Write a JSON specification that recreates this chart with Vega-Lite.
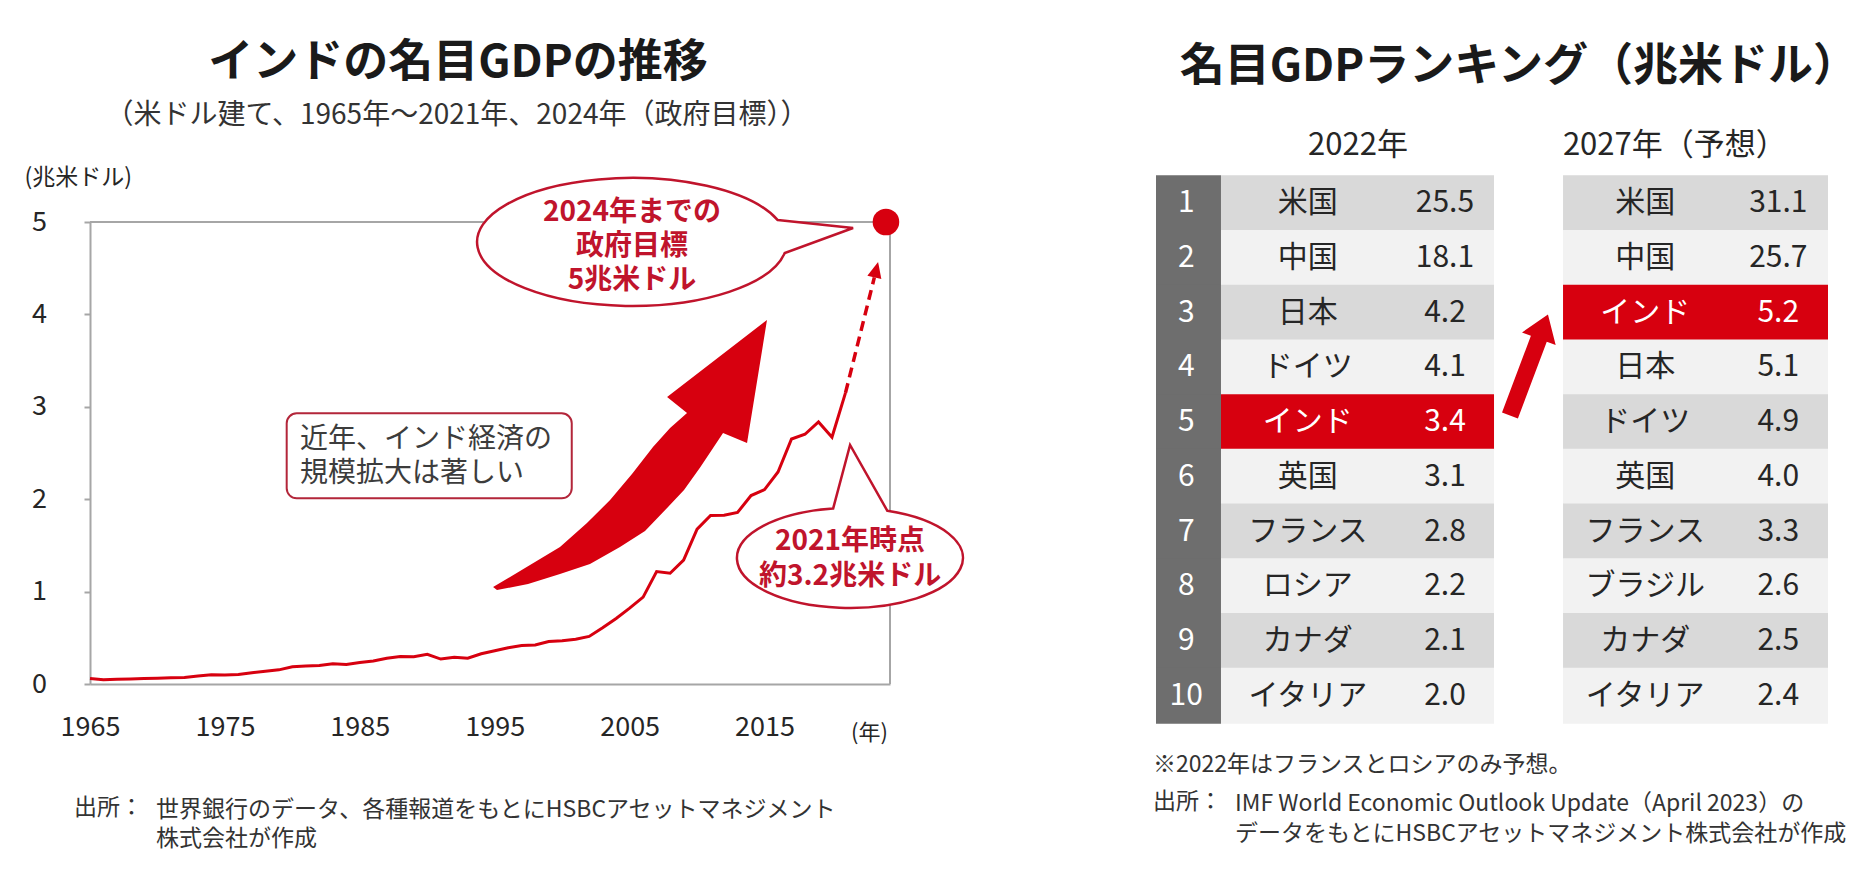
{
  "$schema": "https://vega.github.io/schema/vega-lite/v6.json",
  "width": 1874,
  "height": 896,
  "autosize": "none",
  "padding": 0,
  "background": "white",
  "config": {"view": {"stroke": null}, "font": "Noto Sans CJK JP"},
  "datasets": {
    "gdp": [
      {"year":1965,"gdp":0.0596},{"year":1966,"gdp":0.0459},{"year":1967,"gdp":0.0501},{"year":1968,"gdp":0.0531},{"year":1969,"gdp":0.0584},
      {"year":1970,"gdp":0.0624},{"year":1971,"gdp":0.0674},{"year":1972,"gdp":0.0715},{"year":1973,"gdp":0.0855},{"year":1974,"gdp":0.0995},
      {"year":1975,"gdp":0.0985},{"year":1976,"gdp":0.1027},{"year":1977,"gdp":0.1215},{"year":1978,"gdp":0.1373},{"year":1979,"gdp":0.1530},
      {"year":1980,"gdp":0.1863},{"year":1981,"gdp":0.1935},{"year":1982,"gdp":0.2007},{"year":1983,"gdp":0.2183},{"year":1984,"gdp":0.2122},
      {"year":1985,"gdp":0.2325},{"year":1986,"gdp":0.2490},{"year":1987,"gdp":0.2790},{"year":1988,"gdp":0.2966},{"year":1989,"gdp":0.2960},
      {"year":1990,"gdp":0.3210},{"year":1991,"gdp":0.2701},{"year":1992,"gdp":0.2882},{"year":1993,"gdp":0.2793},{"year":1994,"gdp":0.3273},
      {"year":1995,"gdp":0.3603},{"year":1996,"gdp":0.3929},{"year":1997,"gdp":0.4159},{"year":1998,"gdp":0.4214},{"year":1999,"gdp":0.4588},
      {"year":2000,"gdp":0.4684},{"year":2001,"gdp":0.4854},{"year":2002,"gdp":0.5149},{"year":2003,"gdp":0.6077},{"year":2004,"gdp":0.7091},
      {"year":2005,"gdp":0.8204},{"year":2006,"gdp":0.9403},{"year":2007,"gdp":1.2167},{"year":2008,"gdp":1.1989},{"year":2009,"gdp":1.3419},
      {"year":2010,"gdp":1.6756},{"year":2011,"gdp":1.8231},{"year":2012,"gdp":1.8276},{"year":2013,"gdp":1.8567},{"year":2014,"gdp":2.0391},
      {"year":2015,"gdp":2.1036},{"year":2016,"gdp":2.2948},{"year":2017,"gdp":2.6515},{"year":2018,"gdp":2.7029},{"year":2019,"gdp":2.8356},
      {"year":2020,"gdp":2.6716},{"year":2021,"gdp":3.1503}
    ],
    "target": [{"year": 2024, "gdp": 5}],
    "table": [
      {"rank":1,"c1":"米国","v1":25.5,"c2":"米国","v2":31.1},
      {"rank":2,"c1":"中国","v1":18.1,"c2":"中国","v2":25.7},
      {"rank":3,"c1":"日本","v1":4.2,"c2":"インド","v2":5.2},
      {"rank":4,"c1":"ドイツ","v1":4.1,"c2":"日本","v2":5.1},
      {"rank":5,"c1":"インド","v1":3.4,"c2":"ドイツ","v2":4.9},
      {"rank":6,"c1":"英国","v1":3.1,"c2":"英国","v2":4.0},
      {"rank":7,"c1":"フランス","v1":2.8,"c2":"フランス","v2":3.3},
      {"rank":8,"c1":"ロシア","v1":2.2,"c2":"ブラジル","v2":2.6},
      {"rank":9,"c1":"カナダ","v1":2.1,"c2":"カナダ","v2":2.5},
      {"rank":10,"c1":"イタリア","v1":2.0,"c2":"イタリア","v2":2.4}
    ]
  },
  "resolve": {"scale": {"x": "independent", "y": "independent"}},
  "layer": [
    {
      "layer": [
        {
          "data": {"values": [{}]},
          "mark": {"type": "rule", "color": "#a6a6a6", "strokeWidth": 2},
          "encoding": {
            "x": {"datum": 1965, "type": "quantitative", "scale": {"domain": [1965, 2024.3], "range": [90, 890], "nice": false, "zero": false}},
            "x2": {"datum": 2024.3},
            "y": {"datum": 5, "type": "quantitative", "scale": {"domain": [0, 5], "range": [684, 222], "nice": false, "zero": false}}
          }
        },
        {
          "data": {"values": [{}]},
          "mark": {"type": "rule", "color": "#a6a6a6", "strokeWidth": 2},
          "encoding": {
            "x": {"datum": 2024.3, "type": "quantitative", "scale": {"domain": [1965, 2024.3], "range": [90, 890], "nice": false, "zero": false}},
            "y": {"datum": 0, "type": "quantitative", "scale": {"domain": [0, 5], "range": [684, 222], "nice": false, "zero": false}},
            "y2": {"datum": 5}
          }
        },
        {
          "data": {"name": "gdp"},
          "mark": {"type": "line", "color": "#d7000f", "strokeWidth": 3},
          "encoding": {
            "x": {"field": "year", "type": "quantitative",
              "scale": {"domain": [1965, 2024.3], "range": [90, 890], "nice": false, "zero": false},
              "axis": {"orient": "bottom", "offset": -212, "values": [1965, 1975, 1985, 1995, 2005, 2015], "format": "d",
                "grid": false, "ticks": false, "tickSize": 0, "domainColor": "#a6a6a6", "domainWidth": 2,
                "labelFontSize": 27, "labelColor": "#262626", "labelPadding": 30, "labelFlush": false,
                "title": "(年)", "titleFontSize": 22, "titleFontWeight": "normal", "titleColor": "#262626",
                "titleX": 869, "titleY": 48, "titleAlign": "center", "titleBaseline": "middle"}},
            "y": {"field": "gdp", "type": "quantitative",
              "scale": {"domain": [0, 5], "range": [684, 222], "nice": false, "zero": false},
              "axis": {"orient": "left", "offset": -90, "values": [0, 1, 2, 3, 4, 5], "format": "d",
                "grid": false, "ticks": true, "tickSize": 6, "tickColor": "#a6a6a6", "tickWidth": 2,
                "domainColor": "#a6a6a6", "domainWidth": 2,
                "labelFontSize": 27, "labelColor": "#262626", "labelAlign": "center", "labelPadding": 45,
                "title": "(兆米ドル)", "titleFontSize": 23, "titleFontWeight": "normal", "titleColor": "#262626",
                "titleAngle": 0, "titleX": -66, "titleY": 177, "titleAlign": "left", "titleBaseline": "middle"}}
          }
        },
        {
          "data": {"values": [{}]},
          "mark": {"type": "rule", "color": "#d7000f", "strokeWidth": 3.5, "strokeDash": [10, 6]},
          "encoding": {
            "x": {"datum": 2021, "type": "quantitative", "scale": {"domain": [1965, 2024.3], "range": [90, 890], "nice": false, "zero": false}},
            "x2": {"datum": 2023.14},
            "y": {"datum": 3.1503, "type": "quantitative", "scale": {"domain": [0, 5], "range": [684, 222], "nice": false, "zero": false}},
            "y2": {"datum": 4.4}
          }
        },
        {
          "data": {"values": [{}]},
          "mark": {"type": "point", "shape": "M0,-1L0.45,0L-0.45,0Z", "size": 1024, "angle": 13.5, "filled": true, "color": "#d7000f", "opacity": 1},
          "encoding": {
            "x": {"datum": 2023.14, "type": "quantitative", "scale": {"domain": [1965, 2024.3], "range": [90, 890], "nice": false, "zero": false}},
            "y": {"datum": 4.4, "type": "quantitative", "scale": {"domain": [0, 5], "range": [684, 222], "nice": false, "zero": false}}
          }
        },
        {
          "data": {"values": [{}]},
          "mark": {"type": "point", "shape": "M-0.913,0.88L-0.7,0.753L-0.467,0.613L-0.287,0.453L-0.133,0.3L0.013,0.127L0.153,-0.053L0.267,-0.18L0.38,-0.28L0.247,-0.387L0.913,-0.9L0.78,-0.08L0.62,-0.147L0.547,-0.037L0.467,0.083L0.36,0.233L0.247,0.353L0.1,0.507L-0.067,0.613L-0.267,0.727L-0.467,0.793L-0.68,0.86L-0.887,0.9Z", "size": 90000, "filled": true, "color": "#d7000f", "opacity": 1},
          "encoding": {
            "x": {"datum": 2005.03, "type": "quantitative", "scale": {"domain": [1965, 2024.3], "range": [90, 890], "nice": false, "zero": false}},
            "y": {"datum": 2.478, "type": "quantitative", "scale": {"domain": [0, 5], "range": [684, 222], "nice": false, "zero": false}}
          }
        },
        {
          "data": {"values": [{}]},
          "mark": {"type": "rect", "fill": "white", "stroke": "#b3263a", "strokeWidth": 2, "cornerRadius": 10},
          "encoding": {
            "x": {"datum": 1979.58, "type": "quantitative", "scale": {"domain": [1965, 2024.3], "range": [90, 890], "nice": false, "zero": false}},
            "x2": {"datum": 2000.71},
            "y": {"datum": 2.93, "type": "quantitative", "scale": {"domain": [0, 5], "range": [684, 222], "nice": false, "zero": false}},
            "y2": {"datum": 2.01}
          }
        },
        {
          "data": {"values": [{"t": ["近年、インド経済の", "規模拡大は著しい"]}]},
          "mark": {"type": "text", "align": "left", "baseline": "top", "fontSize": 28, "lineHeight": 34, "color": "#3c3c3c"},
          "encoding": {
            "x": {"datum": 1980.57, "type": "quantitative", "scale": {"domain": [1965, 2024.3], "range": [90, 890], "nice": false, "zero": false}},
            "y": {"datum": 2.787, "type": "quantitative", "scale": {"domain": [0, 5], "range": [684, 222], "nice": false, "zero": false}},
            "text": {"field": "t"}
          }
        },
        {
          "data": {"values": [{}]},
          "mark": {"type": "point", "shape": "M0.94,-0.141L1.426,-0.09L0.985,0.071A1,0.413,0,1,1,0.94,-0.141Z", "size": 96100, "filled": true, "fill": "white", "stroke": "#c0142c", "strokeWidth": 2.5, "opacity": 1},
          "encoding": {
            "x": {"datum": 2005.18, "type": "quantitative", "scale": {"domain": [1965, 2024.3], "range": [90, 890], "nice": false, "zero": false}},
            "y": {"datum": 4.784, "type": "quantitative", "scale": {"domain": [0, 5], "range": [684, 222], "nice": false, "zero": false}}
          }
        },
        {
          "data": {"values": [{"t": ["2024年までの", "政府目標", "5兆米ドル"]}]},
          "mark": {"type": "text", "align": "center", "baseline": "top", "fontSize": 28, "lineHeight": 34, "fontWeight": "bold", "color": "#c0142c"},
          "encoding": {
            "x": {"datum": 2005.18, "type": "quantitative", "scale": {"domain": [1965, 2024.3], "range": [90, 890], "nice": false, "zero": false}},
            "y": {"datum": 5.254, "type": "quantitative", "scale": {"domain": [0, 5], "range": [684, 222], "nice": false, "zero": false}},
            "text": {"field": "t"}
          }
        },
        {
          "data": {"values": [{}]},
          "mark": {"type": "point", "shape": "M-0.15,-0.437L0,-1L0.33,-0.417A1,0.442,0,1,1,-0.15,-0.437Z", "size": 51076, "filled": true, "fill": "white", "stroke": "#c0142c", "strokeWidth": 2.5, "opacity": 1},
          "encoding": {
            "x": {"datum": 2021.34, "type": "quantitative", "scale": {"domain": [1965, 2024.3], "range": [90, 890], "nice": false, "zero": false}},
            "y": {"datum": 1.364, "type": "quantitative", "scale": {"domain": [0, 5], "range": [684, 222], "nice": false, "zero": false}}
          }
        },
        {
          "data": {"values": [{"t": ["2021年時点", "約3.2兆米ドル"]}]},
          "mark": {"type": "text", "align": "center", "baseline": "top", "fontSize": 28, "lineHeight": 35, "fontWeight": "bold", "color": "#c0142c"},
          "encoding": {
            "x": {"datum": 2021.34, "type": "quantitative", "scale": {"domain": [1965, 2024.3], "range": [90, 890], "nice": false, "zero": false}},
            "y": {"datum": 1.683, "type": "quantitative", "scale": {"domain": [0, 5], "range": [684, 222], "nice": false, "zero": false}},
            "text": {"field": "t"}
          }
        },
        {
          "data": {"name": "target"},
          "mark": {"type": "point", "shape": "circle", "size": 707, "filled": true, "color": "#d7000f", "opacity": 1},
          "encoding": {
            "x": {"field": "year", "type": "quantitative", "scale": {"domain": [1965, 2024.3], "range": [90, 890], "nice": false, "zero": false}},
            "y": {"field": "gdp", "type": "quantitative", "scale": {"domain": [0, 5], "range": [684, 222], "nice": false, "zero": false}}
          }
        },
        {
          "data": {"values": [{"t": "インドの名目GDPの推移"}]},
          "mark": {"type": "text", "align": "center", "baseline": "middle", "fontSize": 45, "fontWeight": "bold", "color": "#1a1a1a"},
          "encoding": {
            "x": {"datum": 1992.28, "type": "quantitative", "scale": {"domain": [1965, 2024.3], "range": [90, 890], "nice": false, "zero": false}},
            "y": {"datum": 6.721, "type": "quantitative", "scale": {"domain": [0, 5], "range": [684, 222], "nice": false, "zero": false}},
            "text": {"field": "t"}
          }
        },
        {
          "data": {"values": [{"t": "（米ドル建て、1965年～2021年、2024年（政府目標））"}]},
          "mark": {"type": "text", "align": "center", "baseline": "middle", "fontSize": 28, "color": "#333333"},
          "encoding": {
            "x": {"datum": 1992.2, "type": "quantitative", "scale": {"domain": [1965, 2024.3], "range": [90, 890], "nice": false, "zero": false}},
            "y": {"datum": 6.147, "type": "quantitative", "scale": {"domain": [0, 5], "range": [684, 222], "nice": false, "zero": false}},
            "text": {"field": "t"}
          }
        },
        {
          "data": {"values": [{"t": "出所："}]},
          "mark": {"type": "text", "align": "left", "baseline": "middle", "fontSize": 23, "color": "#333333"},
          "encoding": {
            "x": {"datum": 1963.81, "type": "quantitative", "scale": {"domain": [1965, 2024.3], "range": [90, 890], "nice": false, "zero": false}},
            "y": {"datum": -1.342, "type": "quantitative", "scale": {"domain": [0, 5], "range": [684, 222], "nice": false, "zero": false}},
            "text": {"field": "t"}
          }
        },
        {
          "data": {"values": [{"t": ["世界銀行のデータ、各種報道をもとにHSBCアセットマネジメント", "株式会社が作成"]}]},
          "mark": {"type": "text", "align": "left", "baseline": "top", "fontSize": 23, "lineHeight": 29, "color": "#333333"},
          "encoding": {
            "x": {"datum": 1969.89, "type": "quantitative", "scale": {"domain": [1965, 2024.3], "range": [90, 890], "nice": false, "zero": false}},
            "y": {"datum": -1.241, "type": "quantitative", "scale": {"domain": [0, 5], "range": [684, 222], "nice": false, "zero": false}},
            "text": {"field": "t"}
          }
        }
      ]
    },
    {
      "layer": [
        {
          "data": {"name": "table"},
          "mark": {"type": "bar", "orient": "horizontal", "height": 56, "color": "#6e6e6e"},
          "encoding": {
            "x": {"datum": 0, "type": "quantitative", "scale": {"domain": [0, 100], "range": [1156, 1828], "nice": false, "zero": false}, "axis": null},
            "x2": {"datum": 9.67},
            "y": {"field": "rank", "type": "quantitative", "scale": {"domain": [0.5, 10.5], "range": [171, 728], "nice": false, "zero": false}, "axis": null}
          }
        },
        {
          "data": {"name": "table"},
          "mark": {"type": "bar", "orient": "horizontal", "height": 56},
          "encoding": {
            "x": {"datum": 9.67, "type": "quantitative", "scale": {"domain": [0, 100], "range": [1156, 1828], "nice": false, "zero": false}, "axis": null},
            "x2": {"datum": 50.3},
            "y": {"field": "rank", "type": "quantitative", "scale": {"domain": [0.5, 10.5], "range": [171, 728], "nice": false, "zero": false}, "axis": null},
            "color": {"condition": [{"test": "datum.c1 === 'インド'", "value": "#d7000f"}, {"test": "datum.rank % 2 === 1", "value": "#d9d9d9"}], "value": "#f2f2f2"}
          }
        },
        {
          "data": {"name": "table"},
          "mark": {"type": "bar", "orient": "horizontal", "height": 56},
          "encoding": {
            "x": {"datum": 60.57, "type": "quantitative", "scale": {"domain": [0, 100], "range": [1156, 1828], "nice": false, "zero": false}, "axis": null},
            "x2": {"datum": 100},
            "y": {"field": "rank", "type": "quantitative", "scale": {"domain": [0.5, 10.5], "range": [171, 728], "nice": false, "zero": false}, "axis": null},
            "color": {"condition": [{"test": "datum.c2 === 'インド'", "value": "#d7000f"}, {"test": "datum.rank % 2 === 1", "value": "#d9d9d9"}], "value": "#f2f2f2"}
          }
        },
        {
          "data": {"name": "table"},
          "mark": {"type": "text", "align": "center", "baseline": "middle", "fontSize": 30, "color": "white"},
          "encoding": {
            "x": {"datum": 4.5, "type": "quantitative", "scale": {"domain": [0, 100], "range": [1156, 1828], "nice": false, "zero": false}, "axis": null},
            "y": {"field": "rank", "type": "quantitative", "scale": {"domain": [0.5, 10.5], "range": [171, 728], "nice": false, "zero": false}, "axis": null},
            "text": {"field": "rank", "type": "quantitative"}
          }
        },
        {
          "data": {"name": "table"},
          "mark": {"type": "text", "align": "center", "baseline": "middle", "fontSize": 30},
          "encoding": {
            "x": {"datum": 22.6, "type": "quantitative", "scale": {"domain": [0, 100], "range": [1156, 1828], "nice": false, "zero": false}, "axis": null},
            "y": {"field": "rank", "type": "quantitative", "scale": {"domain": [0.5, 10.5], "range": [171, 728], "nice": false, "zero": false}, "axis": null},
            "text": {"field": "c1"},
            "color": {"condition": {"test": "datum.c1 === 'インド'", "value": "white"}, "value": "#262626"}
          }
        },
        {
          "data": {"name": "table"},
          "mark": {"type": "text", "align": "center", "baseline": "middle", "fontSize": 30},
          "encoding": {
            "x": {"datum": 43, "type": "quantitative", "scale": {"domain": [0, 100], "range": [1156, 1828], "nice": false, "zero": false}, "axis": null},
            "y": {"field": "rank", "type": "quantitative", "scale": {"domain": [0.5, 10.5], "range": [171, 728], "nice": false, "zero": false}, "axis": null},
            "text": {"field": "v1", "type": "quantitative", "format": ".1f"},
            "color": {"condition": {"test": "datum.c1 === 'インド'", "value": "white"}, "value": "#262626"}
          }
        },
        {
          "data": {"name": "table"},
          "mark": {"type": "text", "align": "center", "baseline": "middle", "fontSize": 30},
          "encoding": {
            "x": {"datum": 72.8, "type": "quantitative", "scale": {"domain": [0, 100], "range": [1156, 1828], "nice": false, "zero": false}, "axis": null},
            "y": {"field": "rank", "type": "quantitative", "scale": {"domain": [0.5, 10.5], "range": [171, 728], "nice": false, "zero": false}, "axis": null},
            "text": {"field": "c2"},
            "color": {"condition": {"test": "datum.c2 === 'インド'", "value": "white"}, "value": "#262626"}
          }
        },
        {
          "data": {"name": "table"},
          "mark": {"type": "text", "align": "center", "baseline": "middle", "fontSize": 30},
          "encoding": {
            "x": {"datum": 92.6, "type": "quantitative", "scale": {"domain": [0, 100], "range": [1156, 1828], "nice": false, "zero": false}, "axis": null},
            "y": {"field": "rank", "type": "quantitative", "scale": {"domain": [0.5, 10.5], "range": [171, 728], "nice": false, "zero": false}, "axis": null},
            "text": {"field": "v2", "type": "quantitative", "format": ".1f"},
            "color": {"condition": {"test": "datum.c2 === 'インド'", "value": "white"}, "value": "#262626"}
          }
        },
        {
          "data": {"values": [{}]},
          "mark": {"type": "point", "shape": "M0,-1L0.333,-0.52L0.157,-0.52L0.157,1L-0.157,1L-0.157,-0.52L-0.333,-0.52Z", "size": 11664, "angle": 20.6, "filled": true, "color": "#d7000f", "opacity": 1},
          "encoding": {
            "x": {"datum": 55.5, "type": "quantitative", "scale": {"domain": [0, 100], "range": [1156, 1828], "nice": false, "zero": false}, "axis": null},
            "y": {"datum": 3.956, "type": "quantitative", "scale": {"domain": [0.5, 10.5], "range": [171, 728], "nice": false, "zero": false}, "axis": null}
          }
        },
        {
          "data": {"values": [{"t": "名目GDPランキング（兆米ドル）"}]},
          "mark": {"type": "text", "align": "center", "baseline": "middle", "fontSize": 45, "fontWeight": "bold", "color": "#1a1a1a"},
          "encoding": {
            "x": {"datum": 54.0, "type": "quantitative", "scale": {"domain": [0, 100], "range": [1156, 1828], "nice": false, "zero": false}, "axis": null},
            "y": {"datum": -1.49, "type": "quantitative", "scale": {"domain": [0.5, 10.5], "range": [171, 728], "nice": false, "zero": false}, "axis": null},
            "text": {"field": "t"}
          }
        },
        {
          "data": {"values": [{"t": "2022年"}]},
          "mark": {"type": "text", "align": "center", "baseline": "middle", "fontSize": 31, "color": "#262626"},
          "encoding": {
            "x": {"datum": 30.06, "type": "quantitative", "scale": {"domain": [0, 100], "range": [1156, 1828], "nice": false, "zero": false}, "axis": null},
            "y": {"datum": -0.04, "type": "quantitative", "scale": {"domain": [0.5, 10.5], "range": [171, 728], "nice": false, "zero": false}, "axis": null},
            "text": {"field": "t"}
          }
        },
        {
          "data": {"values": [{"t": "2027年（予想）"}]},
          "mark": {"type": "text", "align": "center", "baseline": "middle", "fontSize": 31, "color": "#262626"},
          "encoding": {
            "x": {"datum": 77.2, "type": "quantitative", "scale": {"domain": [0, 100], "range": [1156, 1828], "nice": false, "zero": false}, "axis": null},
            "y": {"datum": -0.04, "type": "quantitative", "scale": {"domain": [0.5, 10.5], "range": [171, 728], "nice": false, "zero": false}, "axis": null},
            "text": {"field": "t"}
          }
        },
        {
          "data": {"values": [{"t": "※2022年はフランスとロシアのみ予想。"}]},
          "mark": {"type": "text", "align": "left", "baseline": "middle", "fontSize": 23, "color": "#333333"},
          "encoding": {
            "x": {"datum": -0.45, "type": "quantitative", "scale": {"domain": [0, 100], "range": [1156, 1828], "nice": false, "zero": false}, "axis": null},
            "y": {"datum": 11.27, "type": "quantitative", "scale": {"domain": [0.5, 10.5], "range": [171, 728], "nice": false, "zero": false}, "axis": null},
            "text": {"field": "t"}
          }
        },
        {
          "data": {"values": [{"t": "出所："}]},
          "mark": {"type": "text", "align": "left", "baseline": "middle", "fontSize": 23, "color": "#333333"},
          "encoding": {
            "x": {"datum": -0.45, "type": "quantitative", "scale": {"domain": [0, 100], "range": [1156, 1828], "nice": false, "zero": false}, "axis": null},
            "y": {"datum": 11.95, "type": "quantitative", "scale": {"domain": [0.5, 10.5], "range": [171, 728], "nice": false, "zero": false}, "axis": null},
            "text": {"field": "t"}
          }
        },
        {
          "data": {"values": [{"t": ["IMF World Economic Outlook Update（April 2023）の", "データをもとにHSBCアセットマネジメント株式会社が作成"]}]},
          "mark": {"type": "text", "align": "left", "baseline": "top", "fontSize": 23, "lineHeight": 30, "color": "#333333"},
          "encoding": {
            "x": {"datum": 11.76, "type": "quantitative", "scale": {"domain": [0, 100], "range": [1156, 1828], "nice": false, "zero": false}, "axis": null},
            "y": {"datum": 11.785, "type": "quantitative", "scale": {"domain": [0.5, 10.5], "range": [171, 728], "nice": false, "zero": false}, "axis": null},
            "text": {"field": "t"}
          }
        }
      ]
    }
  ]
}
